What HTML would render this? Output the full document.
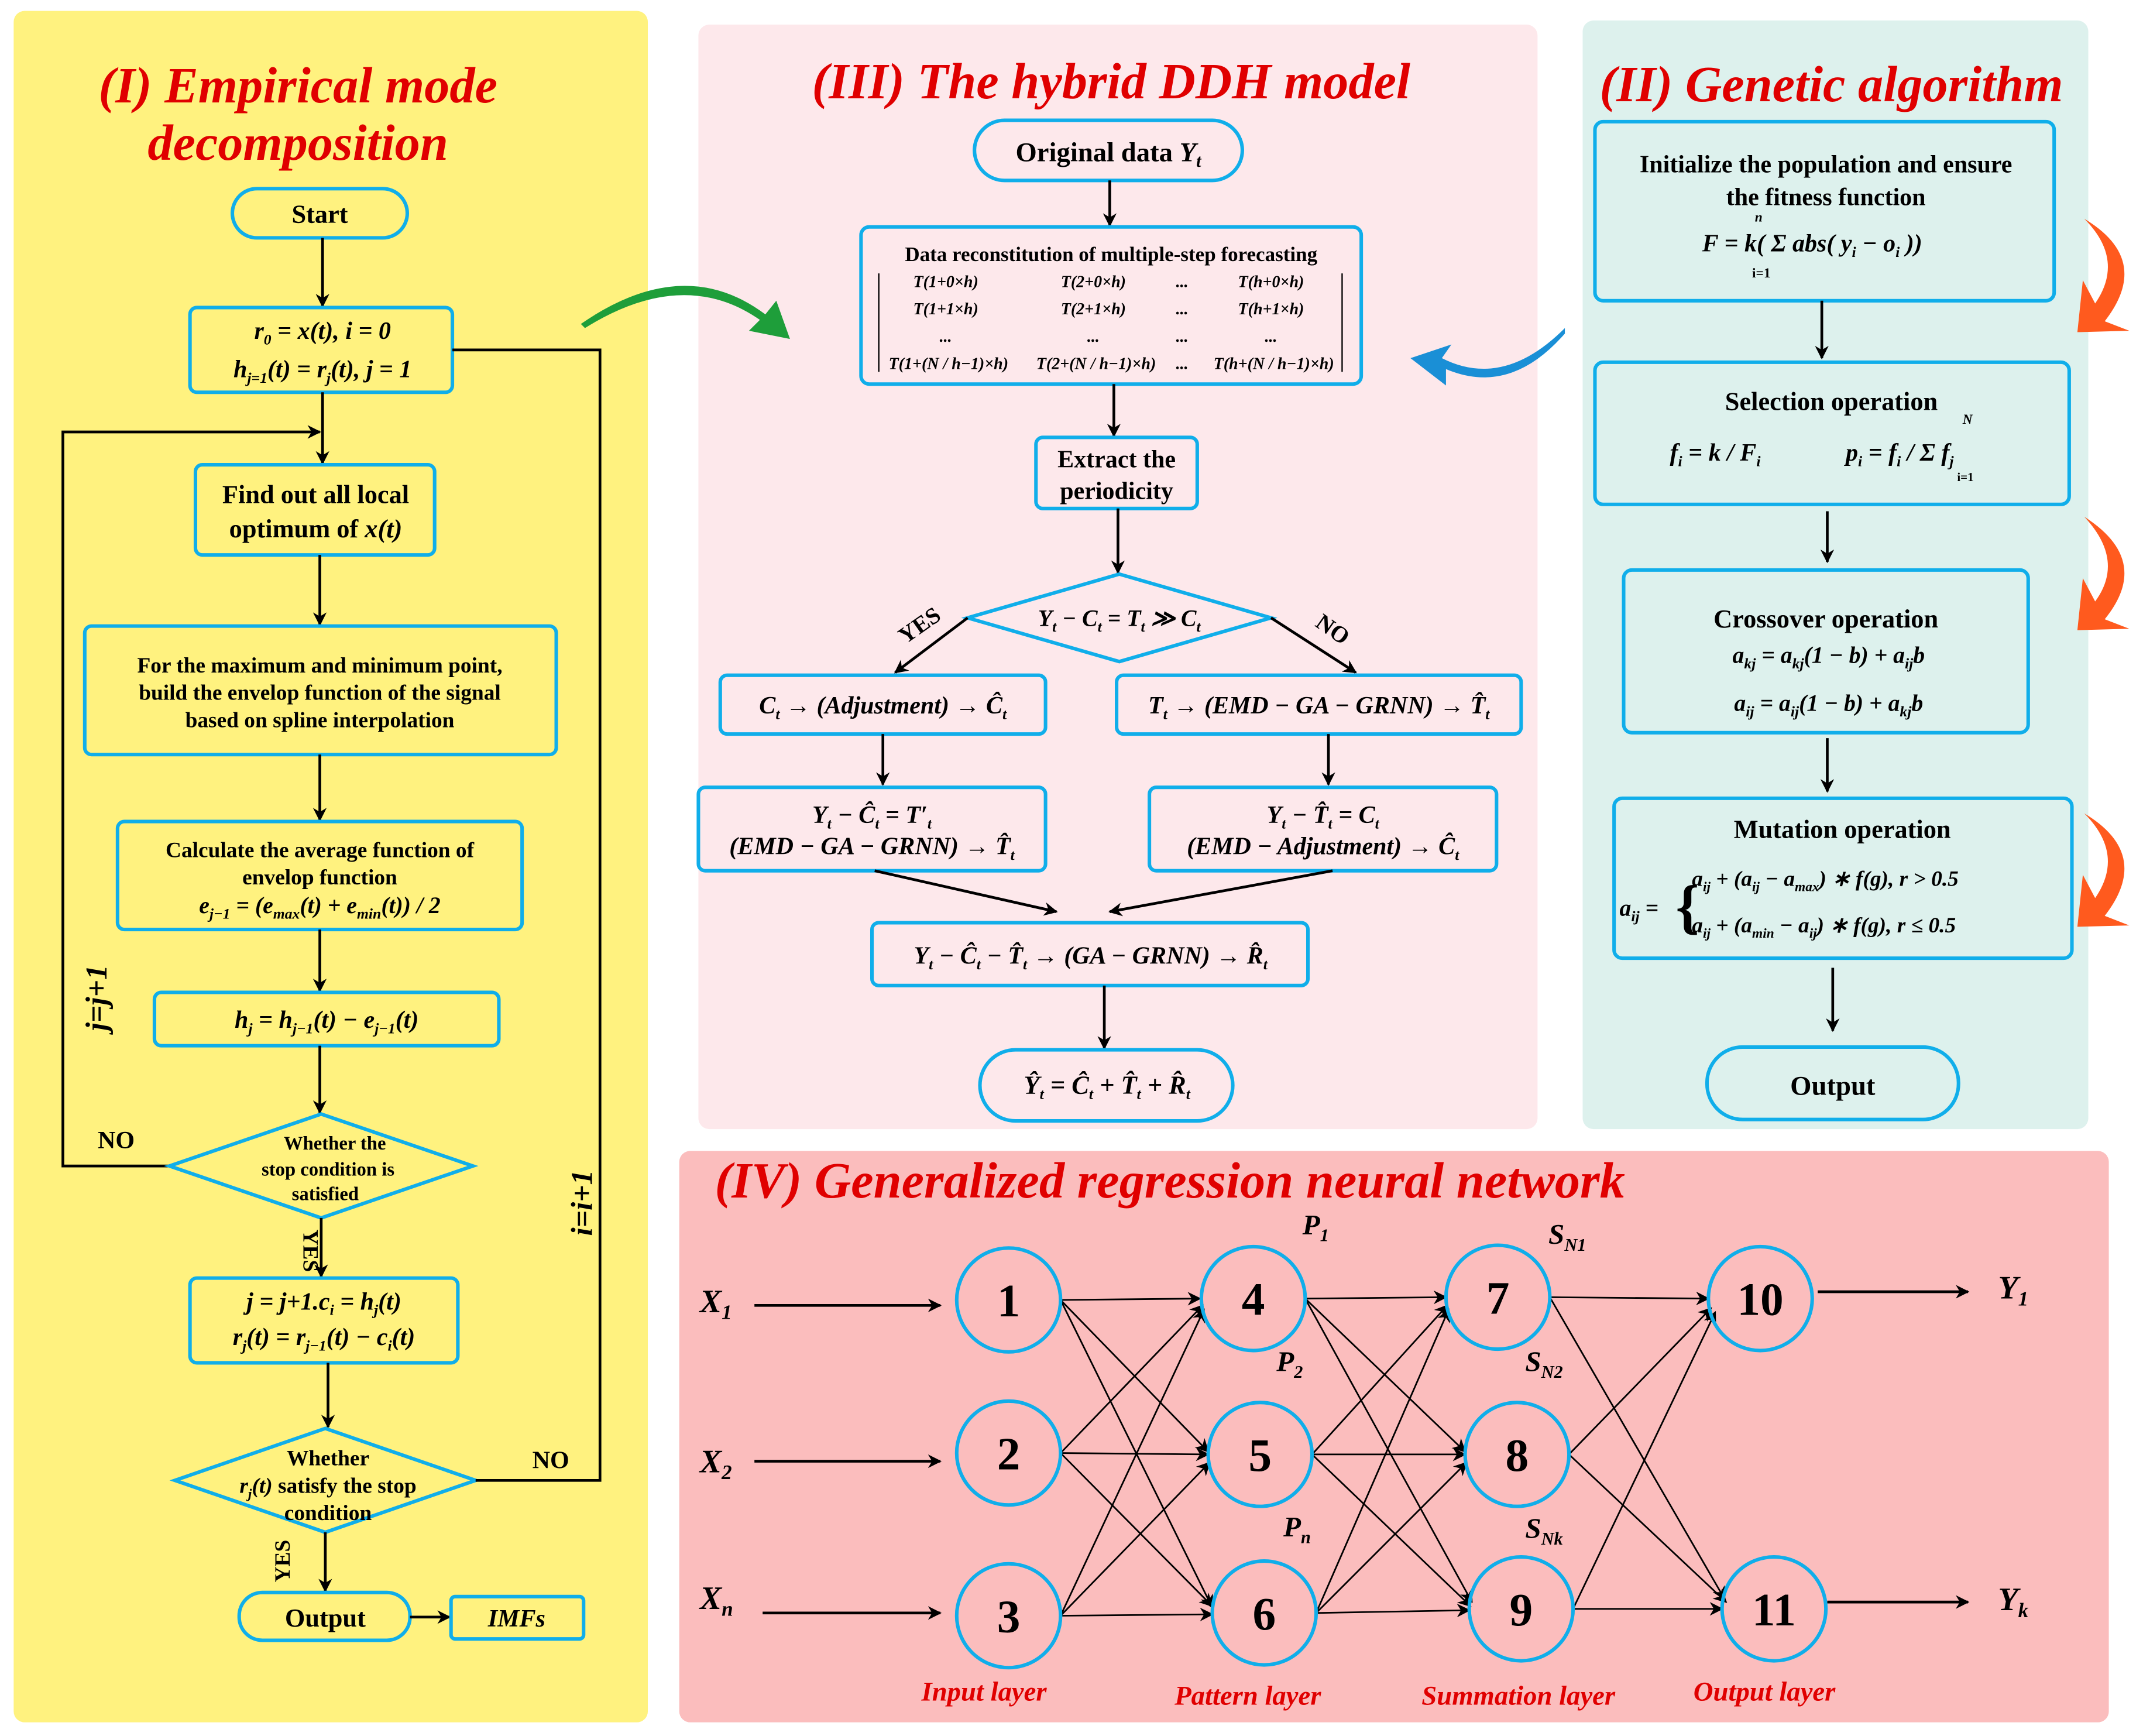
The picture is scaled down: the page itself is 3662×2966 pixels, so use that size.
<!DOCTYPE html>
<html><head><meta charset="utf-8"><style>
html,body{margin:0;padding:0;background:#fff}
svg{display:block}
text{font-family:"Liberation Serif",serif;font-weight:bold;fill:#000}
.t{fill:#E00000;font-style:italic;font-size:37px}
.b{fill:none;stroke:#10AEEA;stroke-width:2.6}
.m{font-style:italic}
.l{stroke:#000;stroke-width:2;fill:none}
.c{fill:#fff0;stroke:#10AEEA;stroke-width:2.6}
.ly{fill:#E00000;font-style:italic;font-size:20px}
</style></head><body>
<svg width="3662" height="2966" viewBox="0 0 1568 1270" xmlns="http://www.w3.org/2000/svg">
<defs>
<marker id="a" markerWidth="10" markerHeight="10" refX="9" refY="5" orient="auto" markerUnits="userSpaceOnUse"><path d="M0,0 L10,5 L0,10 L3,5 z" fill="#000"/></marker>
</defs>
<rect width="1568" height="1270" fill="#fff"/>
<rect x="10" y="8" width="464" height="1252" rx="8" fill="#FFF27F"/>
<rect x="511" y="18" width="614" height="808" rx="8" fill="#FDE8EB"/>
<rect x="1158" y="15" width="370" height="811" rx="8" fill="#DDF1ED"/>
<rect x="497" y="842" width="1046" height="418" rx="8" fill="#FBBDBD"/>

<!-- Panel I -->
<text class="t" x="218" y="75" text-anchor="middle">(I) Empirical mode</text>
<text class="t" x="218" y="117" text-anchor="middle">decomposition</text>
<rect class="b" x="170" y="138" width="128" height="36" rx="18"/>
<text x="234" y="163" text-anchor="middle" font-size="19">Start</text>
<line class="l" x1="236" y1="174" x2="236" y2="224" marker-end="url(#a)"/>
<rect class="b" x="139" y="225" width="192" height="62" rx="5"/>
<text x="236" y="248" text-anchor="middle" font-size="18" class="m">r<tspan font-size="11" dy="4">0</tspan><tspan dy="-4"> = x(t), i = 0</tspan></text>
<text x="236" y="276" text-anchor="middle" font-size="18" class="m">h<tspan font-size="11" dy="4">j=1</tspan><tspan dy="-4">(t) = r</tspan><tspan font-size="11" dy="4">j</tspan><tspan dy="-4">(t), j = 1</tspan></text>
<line class="l" x1="236" y1="287" x2="236" y2="339" marker-end="url(#a)"/>
<polyline class="l" points="124,853 46,853 46,316 234,316" marker-end="url(#a)"/>
<rect class="b" x="143" y="340" width="175" height="66" rx="5"/>
<text x="231" y="368" text-anchor="middle" font-size="19">Find out all local</text>
<text x="231" y="393" text-anchor="middle" font-size="19">optimum of <tspan class="m">x(t)</tspan></text>
<line class="l" x1="234" y1="406" x2="234" y2="457" marker-end="url(#a)"/>
<rect class="b" x="62" y="458" width="345" height="94" rx="5"/>
<text x="234" y="492" text-anchor="middle" font-size="16">For the maximum and minimum point,</text>
<text x="234" y="512" text-anchor="middle" font-size="16">build the envelop function of the signal</text>
<text x="234" y="532" text-anchor="middle" font-size="16">based on spline interpolation</text>
<line class="l" x1="234" y1="552" x2="234" y2="600" marker-end="url(#a)"/>
<rect class="b" x="86" y="601" width="296" height="79" rx="5"/>
<text x="234" y="627" text-anchor="middle" font-size="16">Calculate the average function of</text>
<text x="234" y="647" text-anchor="middle" font-size="16">envelop function</text>
<text x="234" y="668" text-anchor="middle" font-size="17" class="m">e<tspan font-size="11" dy="4">j−1</tspan><tspan dy="-4"> = (e</tspan><tspan font-size="11" dy="4">max</tspan><tspan dy="-4">(t) + e</tspan><tspan font-size="11" dy="4">min</tspan><tspan dy="-4">(t)) / 2</tspan></text>
<line class="l" x1="234" y1="680" x2="234" y2="725" marker-end="url(#a)"/>
<rect class="b" x="113" y="726" width="252" height="39" rx="5"/>
<text x="239" y="752" text-anchor="middle" font-size="18" class="m">h<tspan font-size="11" dy="4">j</tspan><tspan dy="-4"> = h</tspan><tspan font-size="11" dy="4">j−1</tspan><tspan dy="-4">(t) − e</tspan><tspan font-size="11" dy="4">j−1</tspan><tspan dy="-4">(t)</tspan></text>
<line class="l" x1="234" y1="765" x2="234" y2="814" marker-end="url(#a)"/>
<polygon class="b" points="235,815 346,853 235,891 124,853"/>
<text x="245" y="841" text-anchor="middle" font-size="14">Whether the</text>
<text x="240" y="860" text-anchor="middle" font-size="14">stop condition is</text>
<text x="238" y="878" text-anchor="middle" font-size="14">satisfied</text>
<text x="85" y="840" text-anchor="middle" font-size="18">NO</text>
<text transform="translate(78,730) rotate(-90)" text-anchor="middle" font-size="22" class="m">j=j+1</text>
<line class="l" x1="235" y1="891" x2="235" y2="934" marker-end="url(#a)"/>
<text transform="translate(222,915) rotate(90)" text-anchor="middle" font-size="16">YES</text>
<rect class="b" x="139" y="935" width="196" height="62" rx="5"/>
<text x="237" y="958" text-anchor="middle" font-size="18" class="m">j = j+1.c<tspan font-size="11" dy="4">i</tspan><tspan dy="-4"> = h</tspan><tspan font-size="11" dy="4">j</tspan><tspan dy="-4">(t)</tspan></text>
<text x="237" y="984" text-anchor="middle" font-size="18" class="m">r<tspan font-size="11" dy="4">j</tspan><tspan dy="-4">(t) = r</tspan><tspan font-size="11" dy="4">j−1</tspan><tspan dy="-4">(t) − c</tspan><tspan font-size="11" dy="4">i</tspan><tspan dy="-4">(t)</tspan></text>
<line class="l" x1="240" y1="997" x2="240" y2="1044" marker-end="url(#a)"/>
<polygon class="b" points="238,1045 348,1083 238,1121 128,1083"/>
<text x="240" y="1072" text-anchor="middle" font-size="16">Whether</text>
<text x="240" y="1092" text-anchor="middle" font-size="16"><tspan class="m">r<tspan font-size="10" dy="4">j</tspan><tspan dy="-4">(t)</tspan></tspan> satisfy the stop</text>
<text x="240" y="1112" text-anchor="middle" font-size="16">condition</text>
<polyline class="l" points="348,1083 439,1083 439,256 331,256"/>
<text x="403" y="1074" text-anchor="middle" font-size="18">NO</text>
<text transform="translate(433,880) rotate(-90)" text-anchor="middle" font-size="22" class="m">i=i+1</text>
<line class="l" x1="238" y1="1121" x2="238" y2="1164" marker-end="url(#a)"/>
<text transform="translate(212,1142) rotate(-90)" text-anchor="middle" font-size="16">YES</text>
<rect class="b" x="175" y="1165" width="125" height="35" rx="17"/>
<text x="238" y="1190" text-anchor="middle" font-size="19">Output</text>
<line class="l" x1="300" y1="1183" x2="329" y2="1183" marker-end="url(#a)"/>
<rect class="b" x="330" y="1168" width="97" height="31" rx="3"/>
<text x="378" y="1190" text-anchor="middle" font-size="18" class="m">IMFs</text>

<path d="M425,237 Q500,185 560,230 L568,220 L578,248 L548,242 L556,234 Q500,195 428,240 z" fill="#1E9E3A"/>
<path d="M1145,240 Q1100,285 1055,262 L1062,252 L1032,262 L1058,282 L1058,270 Q1105,290 1145,244 z" fill="#1A8FD6"/>

<!-- Panel III -->
<text class="t" x="813" y="72" text-anchor="middle">(III) The hybrid DDH model</text>
<rect class="b" x="713" y="88" width="196" height="44" rx="22"/>
<text x="811" y="118" text-anchor="middle" font-size="20">Original data <tspan class="m">Y<tspan font-size="13" dy="4">t</tspan></tspan></text>
<line class="l" x1="812" y1="132" x2="812" y2="165" marker-end="url(#a)"/>
<rect class="b" x="630" y="166" width="366" height="115" rx="6"/>
<text x="813" y="191" text-anchor="middle" font-size="15">Data reconstitution of multiple-step forecasting</text>
<line x1="643" y1="200" x2="643" y2="272" stroke="#000" stroke-width="1"/>
<line x1="982" y1="200" x2="982" y2="272" stroke="#000" stroke-width="1"/>
<g font-size="12" font-style="italic" text-anchor="middle">
<text x="692" y="210">T(1+0×h)</text><text x="800" y="210">T(2+0×h)</text><text x="865" y="210">...</text><text x="930" y="210">T(h+0×h)</text>
<text x="692" y="230">T(1+1×h)</text><text x="800" y="230">T(2+1×h)</text><text x="865" y="230">...</text><text x="930" y="230">T(h+1×h)</text>
<text x="692" y="250">...</text><text x="800" y="250">...</text><text x="865" y="250">...</text><text x="930" y="250">...</text>
<text x="694" y="270">T(1+(N / h−1)×h)</text><text x="802" y="270">T(2+(N / h−1)×h)</text><text x="865" y="270">...</text><text x="932" y="270">T(h+(N / h−1)×h)</text>
</g>
<line class="l" x1="815" y1="281" x2="815" y2="319" marker-end="url(#a)"/>
<rect class="b" x="758" y="320" width="118" height="52" rx="5"/>
<text x="817" y="342" text-anchor="middle" font-size="18">Extract the</text>
<text x="817" y="365" text-anchor="middle" font-size="18">periodicity</text>
<line class="l" x1="818" y1="372" x2="818" y2="419" marker-end="url(#a)"/>
<polygon class="b" points="819,420 930,452 819,484 708,452"/>
<text x="819" y="458" text-anchor="middle" font-size="17" class="m">Y<tspan font-size="11" dy="4">t</tspan><tspan dy="-4"> − C</tspan><tspan font-size="11" dy="4">t</tspan><tspan dy="-4"> = T</tspan><tspan font-size="11" dy="4">t</tspan><tspan dy="-4"> ≫ C</tspan><tspan font-size="11" dy="4">t</tspan></text>
<line class="l" x1="708" y1="452" x2="655" y2="492" marker-end="url(#a)"/>
<line class="l" x1="930" y1="452" x2="992" y2="492" marker-end="url(#a)"/>
<text transform="translate(676,462) rotate(-35)" text-anchor="middle" font-size="17">YES</text>
<text transform="translate(972,465) rotate(35)" text-anchor="middle" font-size="17">NO</text>
<rect class="b" x="527" y="494" width="238" height="43" rx="5"/>
<text x="646" y="522" text-anchor="middle" font-size="18" class="m">C<tspan font-size="11" dy="4">t</tspan><tspan dy="-4"> → (Adjustment) → Ĉ</tspan><tspan font-size="11" dy="4">t</tspan></text>
<rect class="b" x="817" y="494" width="296" height="43" rx="5"/>
<text x="965" y="522" text-anchor="middle" font-size="18" class="m">T<tspan font-size="11" dy="4">t</tspan><tspan dy="-4"> → (EMD − GA − GRNN) → T̂</tspan><tspan font-size="11" dy="4">t</tspan></text>
<line class="l" x1="646" y1="537" x2="646" y2="574" marker-end="url(#a)"/>
<line class="l" x1="972" y1="537" x2="972" y2="574" marker-end="url(#a)"/>
<rect class="b" x="511" y="576" width="254" height="61" rx="5"/>
<text x="638" y="602" text-anchor="middle" font-size="18" class="m">Y<tspan font-size="11" dy="4">t</tspan><tspan dy="-4"> − Ĉ</tspan><tspan font-size="11" dy="4">t</tspan><tspan dy="-4"> = T′</tspan><tspan font-size="11" dy="4">t</tspan></text>
<text x="638" y="625" text-anchor="middle" font-size="18" class="m">(EMD − GA − GRNN) → T̂<tspan font-size="11" dy="4">t</tspan></text>
<rect class="b" x="841" y="576" width="254" height="61" rx="5"/>
<text x="968" y="602" text-anchor="middle" font-size="18" class="m">Y<tspan font-size="11" dy="4">t</tspan><tspan dy="-4"> − T̂</tspan><tspan font-size="11" dy="4">t</tspan><tspan dy="-4"> = C</tspan><tspan font-size="11" dy="4">t</tspan></text>
<text x="968" y="625" text-anchor="middle" font-size="18" class="m">(EMD − Adjustment) → Ĉ<tspan font-size="11" dy="4">t</tspan></text>
<line class="l" x1="640" y1="637" x2="773" y2="667" marker-end="url(#a)"/>
<line class="l" x1="975" y1="637" x2="812" y2="667" marker-end="url(#a)"/>
<rect class="b" x="638" y="675" width="319" height="46" rx="5"/>
<text x="798" y="705" text-anchor="middle" font-size="18" class="m">Y<tspan font-size="11" dy="4">t</tspan><tspan dy="-4"> − Ĉ</tspan><tspan font-size="11" dy="4">t</tspan><tspan dy="-4"> − T̂</tspan><tspan font-size="11" dy="4">t</tspan><tspan dy="-4"> → (GA − GRNN) → R̂</tspan><tspan font-size="11" dy="4">t</tspan></text>
<line class="l" x1="808" y1="721" x2="808" y2="767" marker-end="url(#a)"/>
<rect class="b" x="717" y="768" width="185" height="52" rx="26"/>
<text x="810" y="800" text-anchor="middle" font-size="19" class="m">Ŷ<tspan font-size="11" dy="4">t</tspan><tspan dy="-4"> = Ĉ</tspan><tspan font-size="11" dy="4">t</tspan><tspan dy="-4"> + T̂</tspan><tspan font-size="11" dy="4">t</tspan><tspan dy="-4"> + R̂</tspan><tspan font-size="11" dy="4">t</tspan></text>

<!-- Panel II -->
<text class="t" x="1340" y="74" text-anchor="middle">(II) Genetic algorithm</text>
<rect class="b" x="1167" y="89" width="336" height="131" rx="6"/>
<text x="1336" y="126" text-anchor="middle" font-size="18">Initialize the population and ensure</text>
<text x="1336" y="150" text-anchor="middle" font-size="18">the fitness function</text>
<text x="1326" y="184" text-anchor="middle" font-size="18" class="m">F = k( Σ abs( y<tspan font-size="11" dy="4">i</tspan><tspan dy="-4"> − o</tspan><tspan font-size="11" dy="4">i</tspan><tspan dy="-4"> ))</tspan></text>
<text x="1282" y="203" font-size="10">i=1</text><text x="1284" y="162" font-size="10" class="m">n</text>
<line class="l" x1="1333" y1="220" x2="1333" y2="262" marker-end="url(#a)"/>
<rect class="b" x="1167" y="265" width="347" height="104" rx="6"/>
<text x="1340" y="300" text-anchor="middle" font-size="19">Selection operation</text>
<text x="1255" y="337" text-anchor="middle" font-size="18" class="m">f<tspan font-size="11" dy="4">i</tspan><tspan dy="-4"> = k / F</tspan><tspan font-size="11" dy="4">i</tspan></text>
<text x="1390" y="337" text-anchor="middle" font-size="18" class="m">p<tspan font-size="11" dy="4">i</tspan><tspan dy="-4"> = f</tspan><tspan font-size="11" dy="4">i</tspan><tspan dy="-4"> / Σ f</tspan><tspan font-size="11" dy="4">j</tspan></text>
<text x="1432" y="352" font-size="9">i=1</text><text x="1436" y="310" font-size="10" class="m">N</text>
<line class="l" x1="1337" y1="374" x2="1337" y2="411" marker-end="url(#a)"/>
<rect class="b" x="1188" y="417" width="296" height="119" rx="6"/>
<text x="1336" y="459" text-anchor="middle" font-size="19">Crossover operation</text>
<text x="1338" y="485" text-anchor="middle" font-size="17" class="m">a<tspan font-size="11" dy="4">kj</tspan><tspan dy="-4"> = a</tspan><tspan font-size="11" dy="4">kj</tspan><tspan dy="-4">(1 − b) + a</tspan><tspan font-size="11" dy="4">ij</tspan><tspan dy="-4">b</tspan></text>
<text x="1338" y="520" text-anchor="middle" font-size="17" class="m">a<tspan font-size="11" dy="4">ij</tspan><tspan dy="-4"> = a</tspan><tspan font-size="11" dy="4">ij</tspan><tspan dy="-4">(1 − b) + a</tspan><tspan font-size="11" dy="4">kj</tspan><tspan dy="-4">b</tspan></text>
<line class="l" x1="1337" y1="540" x2="1337" y2="579" marker-end="url(#a)"/>
<rect class="b" x="1181" y="584" width="335" height="117" rx="6"/>
<text x="1348" y="613" text-anchor="middle" font-size="19">Mutation operation</text>
<text x="1185" y="670" font-size="17" class="m">a<tspan font-size="11" dy="4">ij</tspan><tspan dy="-4"> =</tspan></text>
<text x="1226" y="678" font-size="44" font-weight="normal">{</text>
<text x="1238" y="648" font-size="16" class="m">a<tspan font-size="10" dy="4">ij</tspan><tspan dy="-4"> + (a</tspan><tspan font-size="10" dy="4">ij</tspan><tspan dy="-4"> − a</tspan><tspan font-size="10" dy="4">max</tspan><tspan dy="-4">) ∗ f(g), r &gt; 0.5</tspan></text>
<text x="1238" y="682" font-size="16" class="m">a<tspan font-size="10" dy="4">ij</tspan><tspan dy="-4"> + (a</tspan><tspan font-size="10" dy="4">min</tspan><tspan dy="-4"> − a</tspan><tspan font-size="10" dy="4">ij</tspan><tspan dy="-4">) ∗ f(g), r ≤ 0.5</tspan></text>
<line class="l" x1="1341" y1="708" x2="1341" y2="754" marker-end="url(#a)"/>
<rect class="b" x="1249" y="766" width="184" height="53" rx="26"/>
<text x="1341" y="801" text-anchor="middle" font-size="20">Output</text>
<g fill="#FF5A1E">
<path d="M1525,160 Q1575,190 1540,235 L1558,242 L1520,243 L1524,205 L1533,222 Q1555,190 1525,160 z"/>
<path d="M1525,378 Q1575,410 1540,453 L1558,460 L1520,461 L1524,423 L1533,440 Q1555,410 1525,378 z"/>
<path d="M1525,595 Q1575,625 1540,670 L1558,677 L1520,678 L1524,640 L1533,657 Q1555,625 1525,595 z"/>
</g>

<!-- Panel IV -->
<text class="t" x="523" y="876">(IV) Generalized regression neural network</text>
<g class="l">
<line x1="552" y1="955" x2="688" y2="955" marker-end="url(#a)"/>
<line x1="552" y1="1069" x2="688" y2="1069" marker-end="url(#a)"/>
<line x1="558" y1="1180" x2="688" y2="1180" marker-end="url(#a)"/>
<line x1="1330" y1="945" x2="1440" y2="945" marker-end="url(#a)"/>
<line x1="1337" y1="1172" x2="1440" y2="1172" marker-end="url(#a)"/>
</g>
<g stroke="#000" stroke-width="1.2" fill="none" marker-end="url(#a)">
<line x1="776" y1="951" x2="878" y2="950"/><line x1="776" y1="951" x2="884" y2="1062"/><line x1="776" y1="951" x2="887" y2="1176"/>
<line x1="776" y1="1063" x2="880" y2="955"/><line x1="776" y1="1063" x2="884" y2="1064"/><line x1="776" y1="1063" x2="887" y2="1175"/>
<line x1="776" y1="1182" x2="881" y2="958"/><line x1="776" y1="1182" x2="885" y2="1070"/><line x1="776" y1="1182" x2="887" y2="1181"/>
<line x1="955" y1="950" x2="1058" y2="949"/><line x1="955" y1="950" x2="1072" y2="1062"/><line x1="955" y1="950" x2="1077" y2="1172"/>
<line x1="960" y1="1064" x2="1059" y2="955"/><line x1="960" y1="1064" x2="1072" y2="1064"/><line x1="960" y1="1064" x2="1076" y2="1175"/>
<line x1="963" y1="1180" x2="1060" y2="958"/><line x1="963" y1="1180" x2="1073" y2="1070"/><line x1="963" y1="1180" x2="1075" y2="1178"/>
<line x1="1134" y1="949" x2="1250" y2="950"/><line x1="1134" y1="949" x2="1262" y2="1170"/>
<line x1="1148" y1="1064" x2="1252" y2="957"/><line x1="1148" y1="1064" x2="1263" y2="1172"/>
<line x1="1151" y1="1177" x2="1255" y2="960"/><line x1="1151" y1="1177" x2="1260" y2="1177"/>
</g>
<g class="c">
<circle cx="738" cy="951" r="38"/><circle cx="738" cy="1063" r="38"/><circle cx="738" cy="1182" r="38"/>
<circle cx="917" cy="950" r="38"/><circle cx="922" cy="1064" r="38"/><circle cx="925" cy="1180" r="38"/>
<circle cx="1096" cy="949" r="38"/><circle cx="1110" cy="1064" r="38"/><circle cx="1113" cy="1177" r="38"/>
<circle cx="1288" cy="950" r="38"/><circle cx="1298" cy="1177" r="38"/>
</g>
<g font-size="34" text-anchor="middle">
<text x="738" y="963">1</text><text x="738" y="1075">2</text><text x="738" y="1194">3</text>
<text x="917" y="962">4</text><text x="922" y="1076">5</text><text x="925" y="1192">6</text>
<text x="1096" y="961">7</text><text x="1110" y="1076">8</text><text x="1113" y="1189">9</text>
<text x="1288" y="962">10</text><text x="1298" y="1189">11</text>
</g>
<g font-size="24" class="m">
<text x="512" y="960" class="m">X<tspan font-size="15" dy="5">1</tspan></text>
<text x="512" y="1077" class="m">X<tspan font-size="15" dy="5">2</tspan></text>
<text x="512" y="1177" class="m">X<tspan font-size="15" dy="5">n</tspan></text>
<text x="1462" y="950" class="m">Y<tspan font-size="15" dy="5">1</tspan></text>
<text x="1462" y="1178" class="m">Y<tspan font-size="15" dy="5">k</tspan></text>
</g>
<g font-size="21" class="m">
<text x="953" y="903" class="m">P<tspan font-size="13" dy="5">1</tspan></text>
<text x="934" y="1003" class="m">P<tspan font-size="13" dy="5">2</tspan></text>
<text x="939" y="1124" class="m">P<tspan font-size="13" dy="5">n</tspan></text>
<text x="1133" y="910" class="m">S<tspan font-size="13" dy="5">N1</tspan></text>
<text x="1116" y="1003" class="m">S<tspan font-size="13" dy="5">N2</tspan></text>
<text x="1116" y="1125" class="m">S<tspan font-size="13" dy="5">Nk</tspan></text>
</g>
<text class="ly" x="720" y="1244" text-anchor="middle">Input layer</text>
<text class="ly" x="913" y="1247" text-anchor="middle">Pattern layer</text>
<text class="ly" x="1111" y="1247" text-anchor="middle">Summation layer</text>
<text class="ly" x="1291" y="1244" text-anchor="middle">Output layer</text>
</svg>
</body></html>
